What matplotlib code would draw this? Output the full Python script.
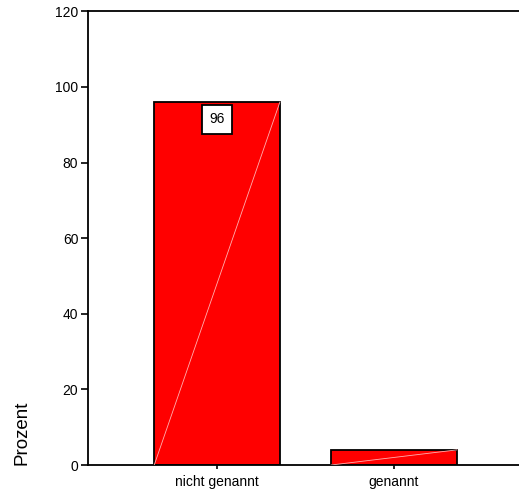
import matplotlib
matplotlib.use("Agg")
import matplotlib.pyplot as plt

categories = ["nicht genannt", "genannt"]
percent = [96, 4]
bar_labels = ["96", None]
y_ticks = [0, 20, 40, 60, 80, 100, 120]

plt.rcParams["font.family"] = ["Liberation Sans", "DejaVu Sans"]

fig = plt.figure(figsize=(5.19, 4.95), dpi=100)
ax = fig.add_axes([0.1696, 0.0606, 0.8304, 0.9164])

x = list(range(len(categories)))
width = 0.71
ax.bar(x, percent, width=width, color="#ff0000", edgecolor="black", linewidth=1.3, zorder=2)

# faint diagonal streak SPSS leaves across each bar
for xi, v in zip(x, percent):
    ax.plot([xi - width / 2, xi + width / 2], [0, v], color="#ffb0b0", lw=0.6, zorder=3)

for xi, v, lab in zip(x, percent, bar_labels):
    if lab:
        ax.text(xi, v - 4.6, lab, ha="center", va="center", fontsize=10, zorder=4,
                bbox=dict(boxstyle="square,pad=0.55", fc="white", ec="black", lw=1.3))

ax.set_xlim(-0.729, 1.706)
ax.set_ylim(0, 120)
ax.set_yticks(y_ticks)
ax.set_xticks(x)
ax.set_xticklabels(categories)
ax.tick_params(axis="y", labelsize=10, length=5, width=1.2, pad=2)
ax.tick_params(axis="x", labelsize=10, length=3, width=1.2, pad=4)

ax.spines["right"].set_visible(False)
for s in ["left", "bottom", "top"]:
    ax.spines[s].set_linewidth(1.3)

fig.text(0.043, 0.0606, "Prozent", rotation=90, ha="center", va="bottom", fontsize=13.5)

fig.savefig("out.png", dpi=100)
